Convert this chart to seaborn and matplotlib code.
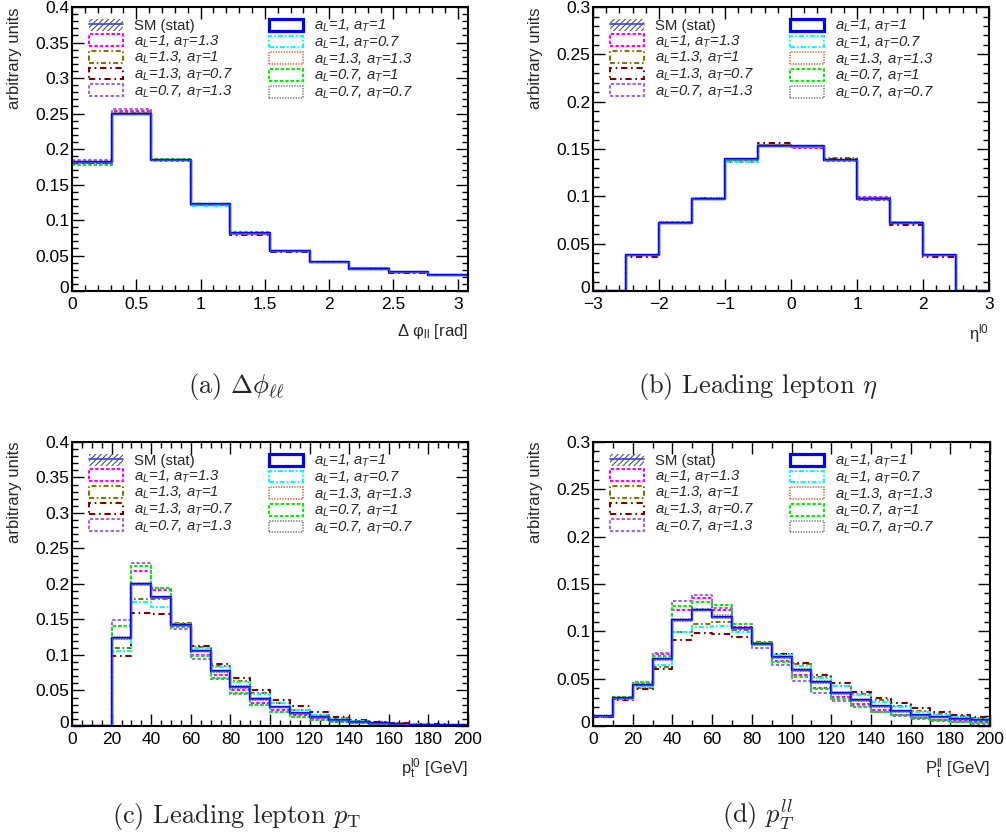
import numpy as np
import pandas as pd
import matplotlib
matplotlib.use("Agg")
import matplotlib.pyplot as plt
import matplotlib.transforms as mtransforms
from matplotlib.patches import Patch
from matplotlib.lines import Line2D
from matplotlib.ticker import MultipleLocator, FuncFormatter
import seaborn as sns

# ---------------------------------------------------------------------------
# Normalised distributions (arbitrary units), one list per coupling setting.
# Key naming: <observable>_<aL>_<aT>
# ---------------------------------------------------------------------------

# Delta phi_ll, 10 bins over [0, 3.08] rad
dphi_1_1 = [0.182, 0.250, 0.184, 0.122, 0.0815, 0.0565, 0.041, 0.0315, 0.0265, 0.0228]
dphi_1_13 = [0.183, 0.254, 0.185, 0.121, 0.0810, 0.0560, 0.041, 0.0318, 0.0268, 0.0226]
dphi_13_1 = [0.181, 0.251, 0.185, 0.122, 0.0800, 0.0560, 0.0405, 0.0312, 0.0262, 0.0225]
dphi_13_07 = [0.180, 0.250, 0.184, 0.122, 0.0790, 0.0555, 0.0405, 0.0310, 0.0260, 0.0225]
dphi_07_13 = [0.184, 0.256, 0.185, 0.121, 0.0805, 0.0570, 0.041, 0.0320, 0.0268, 0.0226]
dphi_1_07 = [0.182, 0.250, 0.184, 0.120, 0.0820, 0.0565, 0.041, 0.0315, 0.0265, 0.0228]
dphi_13_13 = [0.182, 0.251, 0.184, 0.122, 0.0810, 0.0560, 0.041, 0.0315, 0.0265, 0.0230]
dphi_07_1 = [0.177, 0.249, 0.186, 0.123, 0.0835, 0.0570, 0.0415, 0.0318, 0.0265, 0.0225]
dphi_07_07 = [0.181, 0.250, 0.185, 0.1225, 0.0815, 0.0565, 0.0405, 0.0315, 0.0262, 0.0228]

# Leading-lepton eta, 12 bins over [-3, 3]
eta_1_1 = [0, 0.0379, 0.0722, 0.0975, 0.139, 0.1535, 0.153, 0.138, 0.097, 0.0722, 0.0379, 0]
eta_1_13 = [0, 0.0382, 0.0725, 0.0970, 0.136, 0.1535, 0.151, 0.138, 0.099, 0.0720, 0.0380, 0]
eta_13_1 = [0, 0.0378, 0.0722, 0.0975, 0.139, 0.1545, 0.153, 0.1405, 0.0965, 0.0718, 0.0378, 0]
eta_13_07 = [0, 0.0360, 0.0720, 0.0980, 0.1395, 0.1560, 0.1535, 0.139, 0.097, 0.0700, 0.0362, 0]
eta_07_13 = [0, 0.0382, 0.0722, 0.0972, 0.137, 0.1540, 0.152, 0.1375, 0.0985, 0.0722, 0.0380, 0]
eta_1_07 = [0, 0.0380, 0.0720, 0.0978, 0.136, 0.1535, 0.1525, 0.1385, 0.0975, 0.0725, 0.0380, 0]
eta_13_13 = [0, 0.0380, 0.0725, 0.0972, 0.138, 0.1540, 0.152, 0.138, 0.0975, 0.0720, 0.0380, 0]
eta_07_1 = [0, 0.0380, 0.0720, 0.0975, 0.1385, 0.1530, 0.1525, 0.138, 0.0975, 0.0722, 0.0382, 0]
eta_07_07 = [0, 0.0378, 0.0720, 0.0978, 0.139, 0.1530, 0.153, 0.1385, 0.097, 0.0725, 0.0378, 0]

# Leading-lepton pT, 20 bins over [0, 200] GeV
ptl_1_1 = [0, 0, 0.124, 0.200, 0.181, 0.142, 0.106, 0.077, 0.055, 0.038,
           0.026, 0.018, 0.012, 0.008, 0.005, 0.0035, 0.0025, 0.0018, 0.0013, 0.0010]
ptl_1_13 = [0, 0, 0.141, 0.218, 0.192, 0.141, 0.100, 0.072, 0.050, 0.033,
            0.023, 0.015, 0.010, 0.006, 0.004, 0.003, 0.002, 0.0014, 0.0010, 0.0008]
ptl_13_1 = [0, 0, 0.110, 0.179, 0.179, 0.145, 0.111, 0.085, 0.063, 0.046,
            0.033, 0.023, 0.016, 0.011, 0.007, 0.005, 0.0035, 0.0025, 0.0018, 0.0013]
ptl_13_07 = [0, 0, 0.098, 0.159, 0.158, 0.144, 0.112, 0.087, 0.067, 0.050,
             0.037, 0.028, 0.020, 0.013, 0.009, 0.006, 0.0045, 0.0032, 0.0023, 0.0016]
ptl_07_13 = [0, 0, 0.149, 0.229, 0.194, 0.137, 0.094, 0.066, 0.045, 0.030,
             0.020, 0.013, 0.008, 0.005, 0.0035, 0.0023, 0.0016, 0.0011, 0.0008, 0.0006]
ptl_1_07 = [0, 0, 0.106, 0.175, 0.167, 0.143, 0.110, 0.083, 0.062, 0.045,
            0.032, 0.022, 0.015, 0.010, 0.007, 0.0048, 0.0034, 0.0024, 0.0017, 0.0012]
ptl_13_13 = [0, 0, 0.125, 0.198, 0.180, 0.143, 0.107, 0.078, 0.056, 0.039,
             0.027, 0.018, 0.012, 0.008, 0.005, 0.0035, 0.0025, 0.0018, 0.0013, 0.0010]
ptl_07_1 = [0, 0, 0.141, 0.225, 0.195, 0.140, 0.099, 0.068, 0.046, 0.030,
            0.020, 0.013, 0.009, 0.006, 0.004, 0.0025, 0.0018, 0.0012, 0.0009, 0.0007]
ptl_07_07 = [0, 0, 0.123, 0.201, 0.182, 0.141, 0.105, 0.076, 0.054, 0.037,
             0.026, 0.017, 0.011, 0.008, 0.005, 0.0034, 0.0024, 0.0017, 0.0012, 0.0010]

# Dilepton pT, 20 bins over [0, 200] GeV
ptll_1_1 = [0.0102, 0.030, 0.0435, 0.071, 0.112, 0.123, 0.115, 0.103, 0.087, 0.073,
            0.059, 0.046, 0.035, 0.027, 0.021, 0.0156, 0.0114, 0.0095, 0.0078, 0.0062]
ptll_1_13 = [0.0105, 0.031, 0.046, 0.076, 0.123, 0.135, 0.123, 0.105, 0.087, 0.069,
             0.054, 0.040, 0.031, 0.023, 0.017, 0.012, 0.0088, 0.0068, 0.0052, 0.0040]
ptll_13_1 = [0.0098, 0.028, 0.040, 0.062, 0.099, 0.108, 0.110, 0.101, 0.089, 0.076,
             0.065, 0.052, 0.042, 0.034, 0.027, 0.021, 0.016, 0.013, 0.010, 0.008]
ptll_13_07 = [0.0097, 0.027, 0.039, 0.060, 0.091, 0.098, 0.097, 0.094, 0.088, 0.076,
              0.066, 0.054, 0.045, 0.036, 0.030, 0.024, 0.019, 0.015, 0.0114, 0.0097]
ptll_07_13 = [0.0104, 0.031, 0.045, 0.077, 0.132, 0.138, 0.125, 0.104, 0.082, 0.064,
              0.048, 0.035, 0.0265, 0.020, 0.0145, 0.010, 0.0075, 0.0055, 0.0040, 0.0025]
ptll_1_07 = [0.0100, 0.028, 0.041, 0.064, 0.099, 0.105, 0.106, 0.099, 0.088, 0.075,
             0.063, 0.051, 0.042, 0.033, 0.0255, 0.020, 0.015, 0.012, 0.009, 0.0075]
ptll_13_13 = [0.0101, 0.030, 0.043, 0.070, 0.111, 0.122, 0.117, 0.104, 0.088, 0.073,
              0.060, 0.047, 0.036, 0.028, 0.0215, 0.016, 0.012, 0.0098, 0.0080, 0.0064]
ptll_07_1 = [0.0100, 0.031, 0.046, 0.074, 0.127, 0.131, 0.128, 0.108, 0.088, 0.068,
             0.052, 0.039, 0.029, 0.021, 0.015, 0.0114, 0.008, 0.006, 0.0044, 0.0027]
ptll_07_07 = [0.0103, 0.030, 0.044, 0.072, 0.113, 0.124, 0.114, 0.102, 0.086, 0.072,
              0.058, 0.045, 0.034, 0.026, 0.020, 0.015, 0.011, 0.009, 0.0075, 0.0060]

# Relative statistical uncertainty of the SM sample
sm_rel_stat = 0.01

# ---------------------------------------------------------------------------
# Style
# ---------------------------------------------------------------------------
sns.set_style("ticks")
plt.rcParams.update({
    "font.family": ["Liberation Sans", "DejaVu Sans"],
    "mathtext.fontset": "custom",
    "mathtext.rm": "Liberation Sans",
    "mathtext.it": "Liberation Sans:italic",
    "mathtext.bf": "Liberation Sans:bold",
    "axes.edgecolor": "black",
    "axes.linewidth": 1.5,
    "xtick.color": "black",
    "ytick.color": "black",
    "hatch.linewidth": 0.8,
})

# key -> (legend label, colour, linestyle, linewidth)
STYLES = {
    "1_1": (r"$a_L$=1, $a_T$=1", "#0000ff", "solid", 1.7),
    "1_13": (r"$a_L$=1, $a_T$=1.3", "#ff00ff", (0, (1.6, 1.0)), 1.5),
    "13_1": (r"$a_L$=1.3, $a_T$=1", "#7a7a00", (0, (2.4, 1.3, 0.8, 1.3)), 1.5),
    "13_07": (r"$a_L$=1.3, $a_T$=0.7", "#800000", (0, (3.0, 1.8, 0.8, 1.8)), 1.5),
    "07_13": (r"$a_L$=0.7, $a_T$=1.3", "#9b6bdb", (0, (1.6, 1.0)), 1.5),
    "1_07": (r"$a_L$=1, $a_T$=0.7", "#00ffff", (0, (2.4, 1.0, 0.8, 1.0)), 1.5),
    "13_13": (r"$a_L$=1.3, $a_T$=1.3", "#d2723c", (0, (0.8, 0.8)), 1.2),
    "07_1": (r"$a_L$=0.7, $a_T$=1", "#00ee00", (0, (1.6, 1.0)), 1.5),
    "07_07": (r"$a_L$=0.7, $a_T$=0.7", "#808080", (0, (0.8, 0.8)), 1.2),
}
DRAW_ORDER = ["1_13", "13_1", "13_07", "07_13", "1_07", "13_13", "07_1", "07_07", "1_1"]
LEFT_COL = ["1_13", "13_1", "13_07", "07_13"]
RIGHT_COL = ["1_1", "1_07", "13_13", "07_1", "07_07"]

PANELS = [
    dict(values={"1_1": dphi_1_1, "1_13": dphi_1_13, "13_1": dphi_13_1, "13_07": dphi_13_07,
                 "07_13": dphi_07_13, "1_07": dphi_1_07, "13_13": dphi_13_13,
                 "07_1": dphi_07_1, "07_07": dphi_07_07},
         edges=np.linspace(0, 3.08, 11), xlim=(0, 3.08), ylim=(0, 0.4),
         xmaj=0.5, xmin=0.1, xlabel="Δ φ$_{\\mathrm{ll}}$ [rad]",
         rect=[0.0716, 0.6527, 0.3936, 0.3389],
         caption=r"(a) $\Delta\phi_{\ell\ell}$", cap_xy=(0.2356, 0.531)),
    dict(values={"1_1": eta_1_1, "1_13": eta_1_13, "13_1": eta_13_1, "13_07": eta_13_07,
                 "07_13": eta_07_13, "1_07": eta_1_07, "13_13": eta_13_13,
                 "07_1": eta_07_1, "07_07": eta_07_07},
         edges=np.linspace(-3, 3, 13), xlim=(-3, 3), ylim=(0, 0.3),
         xmaj=1, xmin=0.2, xlabel="η$^{\\mathrm{l0}}$",
         rect=[0.5895, 0.6527, 0.3936, 0.3389],
         caption=r"(b) Leading lepton $\eta$", cap_xy=(0.7535, 0.531)),
    dict(values={"1_1": ptl_1_1, "1_13": ptl_1_13, "13_1": ptl_13_1, "13_07": ptl_13_07,
                 "07_13": ptl_07_13, "1_07": ptl_1_07, "13_13": ptl_13_13,
                 "07_1": ptl_07_1, "07_07": ptl_07_07},
         edges=np.linspace(0, 200, 21), xlim=(0, 200), ylim=(0, 0.4),
         xmaj=20, xmin=5, xlabel="p$_{\\mathrm{t}}^{\\mathrm{l0}}$ [GeV]",
         rect=[0.0716, 0.1337, 0.3936, 0.3389],
         caption=r"(c) Leading lepton $p_{\mathrm{T}}$", cap_xy=(0.2356, 0.0179)),
    dict(values={"1_1": ptll_1_1, "1_13": ptll_1_13, "13_1": ptll_13_1, "13_07": ptll_13_07,
                 "07_13": ptll_07_13, "1_07": ptll_1_07, "13_13": ptll_13_13,
                 "07_1": ptll_07_1, "07_07": ptll_07_07},
         edges=np.linspace(0, 200, 21), xlim=(0, 200), ylim=(0, 0.3),
         xmaj=20, xmin=10, xlabel="P$_{\\mathrm{t}}^{\\mathrm{ll}}$ [GeV]",
         rect=[0.5895, 0.1337, 0.3946, 0.3389],
         caption=r"(d) $p_T^{ll}$", cap_xy=(0.7535, 0.0179)),
]


def fmt(v, _pos):
    return ("%g" % v).replace("-", "\u2212")


def draw_hist(ax, centers, weights, edges, **kws):
    """Weighted step histogram through seaborn's own binning."""
    df = pd.DataFrame({"x": centers, "w": np.asarray(weights, dtype=float)})
    sns.histplot(data=df, x="x", weights="w", bins=len(edges) - 1,
                 binrange=(float(edges[0]), float(edges[-1])),
                 element="step", fill=False, ax=ax, **kws)


fig = plt.figure(figsize=(10.06, 8.38), dpi=100)
axes = []

for p in PANELS:
    ax = fig.add_axes(p["rect"])
    axes.append(ax)
    edges = p["edges"]
    centers = 0.5 * (edges[:-1] + edges[1:])

    # SM histogram with its statistical band
    sm = np.asarray(p["values"]["1_1"], dtype=float)
    lo = np.append(sm * (1 - sm_rel_stat), sm[-1] * (1 - sm_rel_stat))
    hi = np.append(sm * (1 + sm_rel_stat), sm[-1] * (1 + sm_rel_stat))
    ax.fill_between(edges, lo, hi, step="post", facecolor="none",
                    edgecolor="#555555", hatch="//////", linewidth=0)

    for key in DRAW_ORDER:
        _label, color, ls, lw = STYLES[key]
        draw_hist(ax, centers, p["values"][key], edges,
                  color=color, linestyle=ls, linewidth=lw)
    draw_hist(ax, centers, sm, edges, color="#3344ff", linewidth=0.8)

    ax.set_xlim(*p["xlim"])
    ax.set_ylim(*p["ylim"])
    ax.xaxis.set_major_locator(MultipleLocator(p["xmaj"]))
    ax.xaxis.set_minor_locator(MultipleLocator(p["xmin"]))
    ax.yaxis.set_major_locator(MultipleLocator(0.05))
    ax.yaxis.set_minor_locator(MultipleLocator(0.01))
    ax.xaxis.set_major_formatter(FuncFormatter(fmt))
    ax.yaxis.set_major_formatter(FuncFormatter(fmt))
    ax.tick_params(which="both", direction="in", top=True, right=True,
                   labelsize=12.5, width=1.0)
    ax.tick_params(axis="x", pad=4)
    ax.tick_params(axis="y", pad=2)
    ax.tick_params(which="major", length=8.3)
    ax.tick_params(which="minor", length=4.2)

    ax.set_ylabel("arbitrary units", fontsize=12, loc="top")
    ax.yaxis.set_label_coords(-0.126, 1.0)
    ax.set_xlabel(p["xlabel"], fontsize=12, loc="right")
    ax.xaxis.set_label_coords(1.0, -0.108)

    # Legend: hatched SM band plus one outlined box per coupling point
    sm_handle = (Patch(facecolor="none", edgecolor="#555555", hatch="//////", linewidth=0),
                 Line2D([], [], color="#3344ff", linewidth=1.2))
    handles = [sm_handle]
    labels = ["SM (stat)"]
    for key in LEFT_COL + RIGHT_COL:
        label, color, ls, lw = STYLES[key]
        handles.append(Patch(facecolor="none", edgecolor=color, linestyle=ls,
                             linewidth=lw + (0.6 if key == "1_1" else 0.0)))
        labels.append(label)
    leg = ax.legend(handles, labels, ncol=2, loc="upper left",
                    bbox_to_anchor=(0.035, 0.972), frameon=False,
                    fontsize=10.7, handlelength=2.3, handleheight=0.85,
                    handletextpad=0.75, columnspacing=2.4, labelspacing=0.02,
                    borderpad=0.2, borderaxespad=0)
    for i, t in enumerate(leg.get_texts()):
        t.set_fontstyle("normal" if i == 0 else "italic")

    fig.text(p["cap_xy"][0], p["cap_xy"][1], p["caption"], family="cmr10",
             math_fontfamily="cm", fontsize=19, ha="center", va="baseline")

# lift the y-axis "0" label slightly off the x-axis labels, as ROOT does
fig.canvas.draw()
lift = mtransforms.ScaledTranslation(0, 3.2 / 72, fig.dpi_scale_trans)
for ax in axes:
    locs = ax.yaxis.get_majorticklocs()
    for tick, loc in zip(ax.yaxis.get_major_ticks(), locs):
        if abs(loc) < 1e-12:
            tick.label1.set_transform(tick.label1.get_transform() + lift)

fig.savefig("out.png", dpi=100)
